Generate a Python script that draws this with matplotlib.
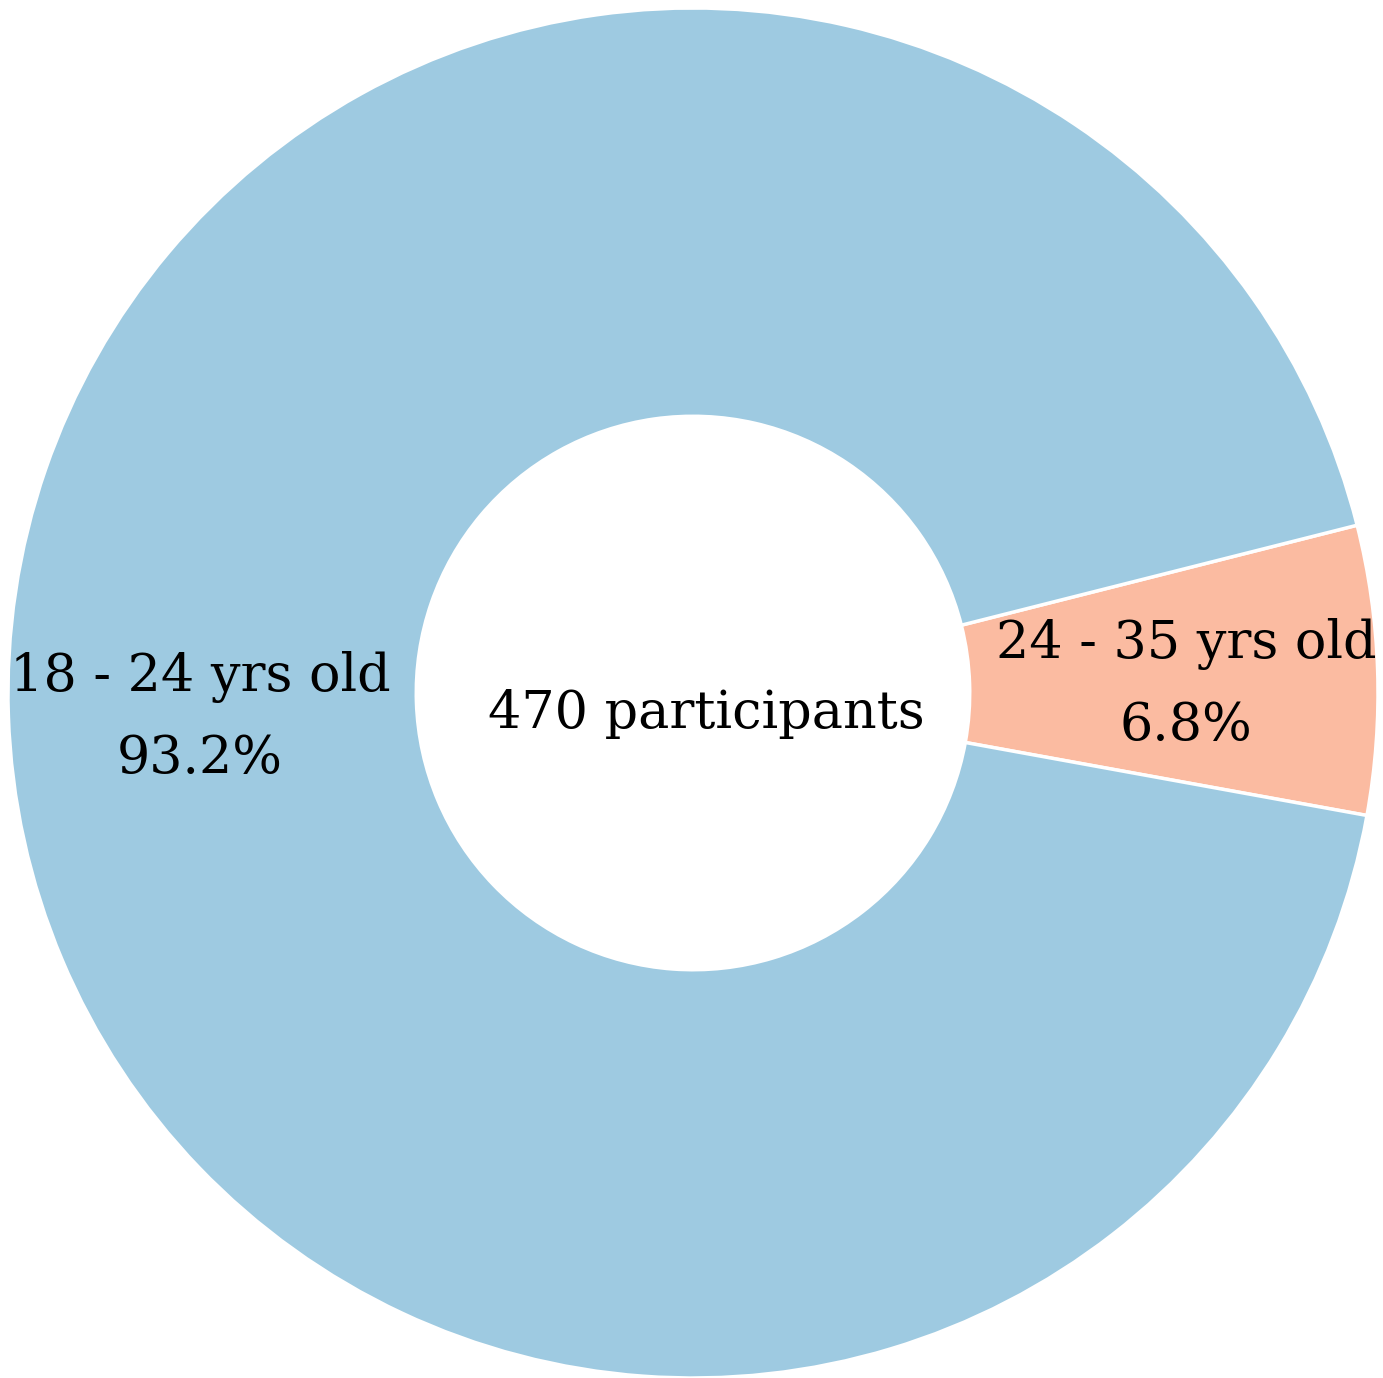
import matplotlib
matplotlib.use("Agg")
import matplotlib.pyplot as plt
import numpy as np

categories = ["24 - 35 yrs old", "18 - 24 yrs old"]
shares = [6.8, 93.2]
colors = ["#fbbba1", "#9ecae1"]
center_text = "470 participants"

W, H, DPI = 1383, 1378, 100
fig = plt.figure(figsize=(W / DPI, H / DPI), dpi=DPI)
R = 685
cx, cy = 693, H - 693
ax = fig.add_axes([(cx - R) / W, (cy - R) / H, 2 * R / W, 2 * R / H])

font = "DejaVu Serif"
fs = 37.7
labels = [f"{c}\n{s}%" for c, s in zip(categories, shares)]
wedges, texts = ax.pie(shares, labels=labels, colors=colors, startangle=-10.3,
                       counterclock=True, radius=1.0, labeldistance=0.72,
                       wedgeprops=dict(width=0.596, edgecolor="white", linewidth=2.5),
                       textprops=dict(fontsize=fs, family=font, color="black"))
ax.set_xlim(-1, 1)
ax.set_ylim(-1, 1)
ax.set_aspect("equal")
ax.axis("off")
for w in wedges:
    w.set_clip_on(False)
for t in texts:
    t.set_horizontalalignment("center")
    t.set_verticalalignment("center")
    t.set_linespacing(1.75)
    t.set_clip_on(False)
    x, y = t.get_position()
    t.set_position((x, y - 0.012))
ax.text(0.02, -0.051, center_text, ha="center", va="baseline", fontsize=fs, family=font)
fig.savefig("out.png", dpi=DPI)
